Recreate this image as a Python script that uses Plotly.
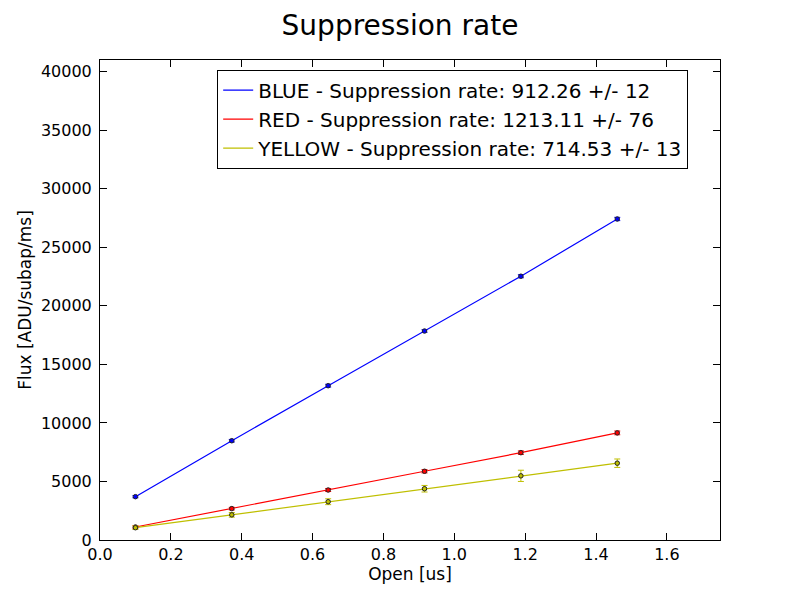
import plotly.graph_objects as go

# Dados
open_us = [0.1, 0.372, 0.644, 0.916, 1.188, 1.46]

blue_flux = [3700, 8480, 13180, 17850, 22530, 27420]
blue_err = [90, 110, 120, 110, 130, 140]

red_flux = [1110, 2680, 4270, 5870, 7460, 9150]
red_err = [100, 110, 130, 140, 150, 160]

yellow_flux = [1050, 2150, 3270, 4380, 5480, 6560]
yellow_err = [150, 200, 250, 280, 480, 360]

labels = [
    "BLUE - Suppression rate: 912.26 +/- 12",
    "RED - Suppression rate: 1213.11 +/- 76",
    "YELLOW - Suppression rate: 714.53 +/- 13",
]
colors = ["#0000ff", "#ff0000", "#bfbf00"]

fig = go.Figure()

series = [(blue_flux, blue_err), (red_flux, red_err), (yellow_flux, yellow_err)]

# Linhas (legenda)
for (flux, err), name, color in zip(series, labels, colors):
    fig.add_trace(go.Scatter(x=open_us, y=flux, mode="lines", name=name,
                             line=dict(color=color, width=1.2)))

# Pontos com barras de erro
for (flux, err), color in zip(series, colors):
    fig.add_trace(go.Scatter(
        x=open_us, y=flux, mode="markers", showlegend=False,
        marker=dict(color=color, size=4.5, line=dict(color="#222222", width=1)),
        error_y=dict(type="data", array=err, color=color, thickness=1, width=3),
    ))

axis_common = dict(
    showgrid=False, zeroline=False, showline=True, linecolor="black", linewidth=1,
    mirror="allticks", ticks="inside", ticklen=7, tickcolor="black",
    tickfont=dict(size=16, color="black"), automargin=False,
)

fig.update_xaxes(range=[0, 1.75], dtick=0.2, tickformat=".1f",
                 title=dict(text="Open [us]", font=dict(size=17, color="black"), standoff=2),
                 **axis_common)
fig.update_yaxes(range=[0, 41000], dtick=5000, tickformat="d", ticklabelstandoff=4,
                 title=dict(text="Flux [ADU/subap/ms]", font=dict(size=17, color="black"), standoff=4),
                 **axis_common)

# Margens compensam o deslocamento de 8px da página
fig.update_layout(
    width=800, height=600,
    template=None,
    paper_bgcolor="white", plot_bgcolor="white",
    font=dict(family="DejaVu Sans", color="black"),
    title=dict(text="Suppression rate", x=0.49, xanchor="center", y=0.972, yanchor="middle",
               font=dict(size=28, color="black"), automargin=False),
    margin=dict(l=92, r=88, t=52, b=68),
    legend=dict(x=0.189, y=0.98, xanchor="left", yanchor="top",
                bordercolor="black", borderwidth=1, bgcolor="white",
                font=dict(size=20, color="black"), tracegroupgap=0),
    showlegend=True,
)

fig.write_html("out.html")
